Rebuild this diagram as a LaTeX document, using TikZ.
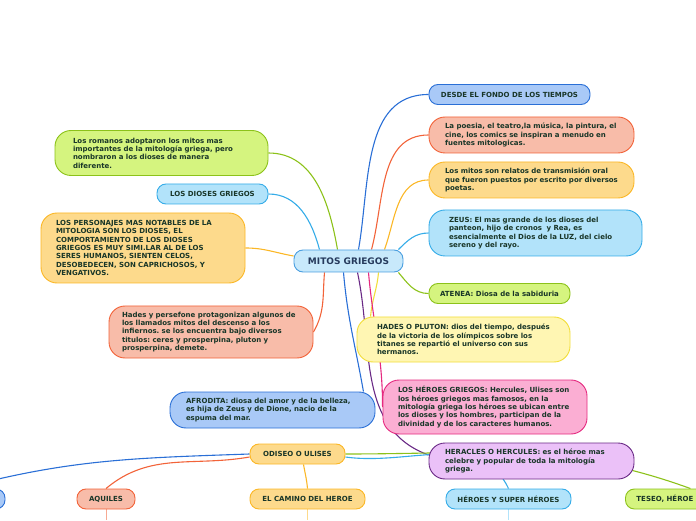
\documentclass[tikz,border=0pt]{standalone}
\usepackage{fontspec}
\setmainfont{DejaVu Sans}
\usepackage{tikz}
\usetikzlibrary{backgrounds}
\frenchspacing
\definecolor{mapInk}{HTML}{193628}
\definecolor{mapNavy}{HTML}{263A5C}
\definecolor{mapBlue}{HTML}{2A6FD6}
\definecolor{mapBlueFill}{HTML}{A9C9F7}
\definecolor{mapRed}{HTML}{F26339}
\definecolor{mapRedFill}{HTML}{F8BCA9}
\definecolor{mapGold}{HTML}{FBB726}
\definecolor{mapGoldFill}{HTML}{FDDA8C}
\definecolor{mapSky}{HTML}{35ACE8}
\definecolor{mapSkyFill}{HTML}{B2E3FA}
\definecolor{mapGreen}{HTML}{8CC21A}
\definecolor{mapGreenFill}{HTML}{D5F47F}
\definecolor{mapLemon}{HTML}{F2DE3A}
\definecolor{mapLemonFill}{HTML}{FFF6B3}
\definecolor{mapPink}{HTML}{E52A80}
\definecolor{mapPinkFill}{HTML}{FBAED3}
\definecolor{mapPurple}{HTML}{6A2A86}
\definecolor{mapPurpleFill}{HTML}{EBC1F8}
\definecolor{mapCentre}{HTML}{4A9FE0}
\definecolor{mapCentreFill}{HTML}{C8E9FB}

\begin{document}
\begin{tikzpicture}[x=1pt,y=1pt,
  font=\fontsize{7}{8.4}\selectfont\bfseries, text=mapInk,
  leaf/.style={draw, line width=0.9pt, rounded corners=16pt, align=left, inner xsep=16pt},
  tag/.style={draw, line width=0.9pt, rounded corners=9pt, minimum height=20pt, inner xsep=11pt},
  link/.style={line width=1.1pt}]
  \useasboundingbox (0,0) rectangle (696,520);
  \clip (0,0) rectangle (696,520);

  % centre
  \node[tag, fill=mapCentreFill, draw=mapCentre, minimum width=109pt, minimum height=22pt,
        text=mapNavy, font=\fontsize{9}{10}\selectfont\bfseries] (mitos) at (348.5,259) {MITOS GRIEGOS};

  % left branch
  \node[leaf, fill=mapGreenFill, draw=mapGreen, text width=177pt, inner xsep=18pt, minimum height=45pt] (romanos) at (161.5,367)
    {Los romanos adoptaron los mitos mas\\ importantes de la mitología griega, pero\\ nombraron a los dioses de manera\\ diferente.};
  \node[tag, fill=mapSkyFill, draw=mapSky, minimum width=111pt] (dioses) at (212.5,326) {LOS DIOSES GRIEGOS};
  \node[leaf, fill=mapGoldFill, draw=mapGold, text width=174pt, inner xsep=15pt, minimum height=70pt] (personajes) at (143,272)
    {LOS PERSONAJES MAS NOTABLES DE LA\\ MITOLOGIA SON LOS DIOSES, EL\\ COMPORTAMIENTO DE LOS DIOSES\\ GRIEGOS ES MUY SIMI.LAR AL DE LOS\\ SERES HUMANOS, SIENTEN CELOS,\\ DESOBEDECEN, SON CAPRICHOSOS, Y\\ VENGATIVOS.};
  \node[leaf, fill=mapRedFill, draw=mapRed, text width=178pt, inner xsep=13pt, minimum height=52pt] (persefone) at (211,188)
    {Hades y persefone protagonizan algunos de\\ los llamados mitos del descenso a los\\ infiernos. se los encuentra bajo diversos\\ titulos: ceres y prosperpina, pluton y\\ prosperpina, demete.};
  \node[leaf, fill=mapBlueFill, draw=mapBlue, text width=173pt, minimum height=36pt] (afrodita) at (272.5,110)
    {AFRODITA: diosa del amor y de la belleza,\\ es hija de Zeus y de Dione, nacio de la\\ espuma del mar.};

  % right branch
  \node[tag, fill=mapBlueFill, draw=mapBlue, minimum width=161pt] (desde) at (509.5,425.5) {DESDE EL FONDO DE LOS TIEMPOS};
  \node[leaf, fill=mapRedFill, draw=mapRed, text width=173pt, minimum height=36pt] (poesia) at (531.5,385)
    {La poesia, el teatro,la música, la pintura, el\\ cine, los comics se inspiran a menudo en\\ fuentes mitologicas.};
  \node[leaf, fill=mapGoldFill, draw=mapGold, text width=173pt, minimum height=36pt] (relatos) at (531.5,340)
    {Los mitos son relatos de transmisión oral\\ que fueron puestos por escrito por diversos\\ poetas.};
  \node[leaf, fill=mapSkyFill, draw=mapSky, text width=173pt, inner xsep=20pt, minimum height=46pt] (zeus) at (535.5,287)
    {ZEUS: El mas grande de los dioses del\\ panteon, hijo de cronos\ \ y Rea, es\\ esencialmente el Dios de la LUZ, del cielo\\ sereno y del rayo.};
  \node[tag, fill=mapGreenFill, draw=mapGreen, minimum width=141pt] (atenea) at (499.5,226.5) {ATENEA: Diosa de la sabiduria};
  \node[leaf, fill=mapLemonFill, draw=mapLemon, text width=173pt, inner xsep=20pt, minimum height=45pt] (hades) at (463.5,180.5)
    {HADES O PLUTON: dios del tiempo, después\\ de la victoria de los olímpicos sobre los\\ titanes se repartió el universo con sus\\ hermanos.};
  \node[leaf, fill=mapPinkFill, draw=mapPink, text width=174pt, inner xsep=15pt, minimum height=54pt] (heroes) at (485,113)
    {LOS HÉROES GRIEGOS: Hercules, Ulises son\\ los héroes griegos mas famosos, en la\\ mitología griega los héroes se ubican entre\\ los dioses y los hombres, participan de la\\ divinidad y de los caracteres humanos.};
  \node[leaf, fill=mapPurpleFill, draw=mapPurple, text width=173pt, minimum height=36pt] (heracles) at (531.5,59)
    {HERACLES O HERCULES: es el héroe mas\\ celebre y popular de toda la mitología\\ griega.};

  % second map
  \node[tag, fill=mapGoldFill, draw=mapGold, minimum width=95pt] (odiseo) at (297.5,66) {ODISEO O ULISES};
  \node[tag, fill=mapBlueFill, draw=mapBlue, minimum width=90pt] (lejano) at (-40,21) {};
  \node[tag, fill=mapRedFill, draw=mapRed, minimum width=58pt] (aquiles) at (106,21) {AQUILES};
  \node[tag, fill=mapGoldFill, draw=mapGold, minimum width=115pt] (camino) at (307.5,21) {EL CAMINO DEL HEROE};
  \node[tag, fill=mapSkyFill, draw=mapSky, minimum width=125pt] (superheroes) at (508.5,21) {HÉROES Y SUPER HÉROES};
  \node[tag, fill=mapGreenFill, draw=mapGreen, anchor=west, text width=108pt, align=left] (teseo) at (625,21) {TESEO, HÉROE};
  \coordinate (aquilesEnd) at (106,0);
  \coordinate (caminoEnd) at (307.5,0);
  \coordinate (superEnd) at (508.5,0);

  \begin{scope}[on background layer]
    \draw[link, mapGreen] ([xshift=-11]mitos.north) to[out=100,in=0] (romanos.east);
    \draw[link, mapSky] ([xshift=-29]mitos.north) to[out=105,in=0] (dioses.east);
    \draw[link, mapGold] ([yshift=5]mitos.west) to[out=170,in=0] (personajes.east);
    \draw[link, mapRed] ([xshift=-24]mitos.south) to[out=-95,in=60] (persefone.east);
    \draw[link, mapBlue] ([xshift=-5]mitos.south) to[out=-85,in=100] ([xshift=-12]afrodita.north east);
    \draw[link, mapBlue] ([xshift=10]mitos.north) to[out=80,in=180] (desde.west);
    \draw[link, mapRed] ([xshift=23]mitos.north) to[out=75,in=180] (poesia.west);
    \draw[link, mapGold] ([xshift=36]mitos.north) to[out=70,in=180] (relatos.west);
    \draw[link, mapSky] ([xshift=-5]mitos.north east) to[out=45,in=180] (zeus.west);
    \draw[link, mapGreen] ([xshift=-5]mitos.south east) to[out=-50,in=180] (atenea.west);
    \draw[link, mapLemon] ([xshift=30]mitos.south) to[out=-95,in=85] ([xshift=14]hades.north west);
    \draw[link, mapPink] ([xshift=20]mitos.south) to[out=-85,in=90] (heroes.west);
    \draw[link, mapPurple] ([xshift=9]mitos.south) to[out=-78,in=160] ([yshift=6]heracles.west);

    \draw[link, mapBlue] (odiseo.west) to[out=182,in=15] (lejano.north);
    \draw[link, mapRed] ([yshift=-3]odiseo.west) to[out=190,in=40] (aquiles.north);
    \draw[link, mapGold] ([xshift=6]odiseo.south) to[out=-80,in=95] (camino.north);
    \draw[link, mapSky] ([yshift=-3]odiseo.east) to[out=-8,in=115] (superheroes.north);
    \draw[link, mapGreen] (odiseo.east) to[out=0,in=160] (teseo.north);
    \draw[line width=0.8pt, mapRedFill!80!mapRed] (aquiles.south) -- (aquilesEnd);
    \draw[line width=0.8pt, mapGoldFill] (camino.south) -- (caminoEnd);
    \draw[line width=0.8pt, mapSkyFill] (superheroes.south) -- (superEnd);
  \end{scope}
\end{tikzpicture}
\end{document}
